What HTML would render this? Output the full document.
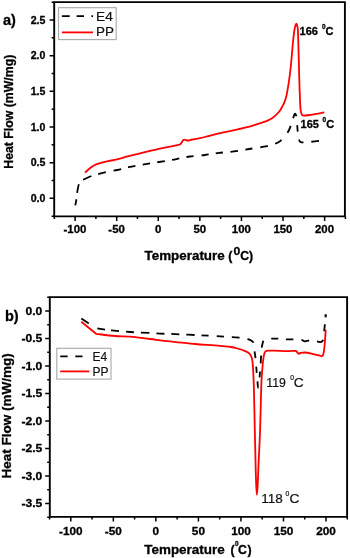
<!DOCTYPE html>
<html><head><meta charset="utf-8"><title>DSC</title>
<style>
html,body{margin:0;padding:0;background:#fff;}
svg{display:block;}
.tb{font-family:'Liberation Sans', Arial, sans-serif;font-weight:bold;fill:#000;stroke:#000;stroke-width:0.3px;}
.tr{font-family:'Liberation Sans', Arial, sans-serif;font-weight:normal;fill:#111;stroke:#111;stroke-width:0.2px;}
</style></head>
<body>
<svg width="350" height="558" viewBox="0 0 350 558">
<path d="M54.2,2.1 H344.9 V216.4 H54.2 Z" fill="none" stroke="#000" stroke-width="1.9"/>
<path d="M54.31,216.4 v2.6 M75.10,216.4 v4.6 M95.89,216.4 v2.6 M116.69,216.4 v4.6 M137.48,216.4 v2.6 M158.27,216.4 v4.6 M179.06,216.4 v2.6 M199.85,216.4 v4.6 M220.65,216.4 v2.6 M241.44,216.4 v4.6 M262.23,216.4 v2.6 M283.02,216.4 v4.6 M303.82,216.4 v2.6 M324.61,216.4 v4.6 M345.40,216.4 v2.6 M54.2,216.13 h-2.6 M54.2,198.30 h-4.6 M54.2,180.47 h-2.6 M54.2,162.64 h-4.6 M54.2,144.81 h-2.6 M54.2,126.98 h-4.6 M54.2,109.15 h-2.6 M54.2,91.32 h-4.6 M54.2,73.49 h-2.6 M54.2,55.66 h-4.6 M54.2,37.83 h-2.6 M54.2,20.00 h-4.6 M54.2,2.17 h-2.6" stroke="#000" stroke-width="1.5" fill="none"/>
<text transform="translate(45.40,201.90)" class="tb" font-size="10.6" text-anchor="end">0.0</text>
<text transform="translate(45.40,166.24)" class="tb" font-size="10.6" text-anchor="end">0.5</text>
<text transform="translate(45.40,130.58)" class="tb" font-size="10.6" text-anchor="end">1.0</text>
<text transform="translate(45.40,94.92)" class="tb" font-size="10.6" text-anchor="end">1.5</text>
<text transform="translate(45.40,59.26)" class="tb" font-size="10.6" text-anchor="end">2.0</text>
<text transform="translate(45.40,23.60)" class="tb" font-size="10.6" text-anchor="end">2.5</text>
<text transform="translate(75.00,233.00) scale(1.060,1)" class="tb" font-size="10.8" text-anchor="middle">-100</text>
<text transform="translate(116.59,233.00) scale(1.060,1)" class="tb" font-size="10.8" text-anchor="middle">-50</text>
<text transform="translate(158.17,233.00) scale(1.060,1)" class="tb" font-size="10.8" text-anchor="middle">0</text>
<text transform="translate(199.75,233.00) scale(1.060,1)" class="tb" font-size="10.8" text-anchor="middle">50</text>
<text transform="translate(241.34,233.00) scale(1.060,1)" class="tb" font-size="10.8" text-anchor="middle">100</text>
<text transform="translate(282.92,233.00) scale(1.060,1)" class="tb" font-size="10.8" text-anchor="middle">150</text>
<text transform="translate(324.51,233.00) scale(1.060,1)" class="tb" font-size="10.8" text-anchor="middle">200</text>
<path id="blka" d="M75.30,205.40 C75.48,204.38 76.10,201.38 76.40,199.30 C76.70,197.22 76.68,195.40 77.10,192.90 C77.52,190.40 78.17,186.25 78.90,184.30 C79.63,182.35 80.60,182.03 81.50,181.20 C82.40,180.37 82.65,180.17 84.30,179.30 C85.95,178.43 88.48,177.03 91.40,176.00 C94.32,174.97 98.70,173.90 101.80,173.10 C104.90,172.30 107.38,171.72 110.00,171.20 C112.62,170.68 114.40,170.67 117.50,170.00 C120.60,169.33 123.18,168.30 128.60,167.20 C134.02,166.10 143.10,164.55 150.00,163.40 C156.90,162.25 165.00,161.15 170.00,160.30 C175.00,159.45 176.67,158.93 180.00,158.30 C183.33,157.67 185.83,157.05 190.00,156.50 C194.17,155.95 200.17,155.60 205.00,155.00 C209.83,154.40 214.17,153.50 219.00,152.90 C223.83,152.30 229.00,152.05 234.00,151.40 C239.00,150.75 244.00,149.78 249.00,149.00 C254.00,148.22 259.78,147.53 264.00,146.70 C268.22,145.87 271.88,144.73 274.30,144.00 C276.72,143.27 277.22,143.05 278.50,142.30 C279.78,141.55 280.92,140.55 282.00,139.50 C283.08,138.45 283.78,137.67 285.00,136.00 C286.22,134.33 288.02,132.25 289.30,129.50 C290.58,126.75 291.78,122.12 292.70,119.50 C293.62,116.88 294.15,114.13 294.80,113.80 C295.45,113.47 296.17,115.15 296.60,117.50 C297.03,119.85 297.12,124.82 297.40,127.90 C297.68,130.98 297.93,133.78 298.30,136.00 C298.67,138.22 299.07,140.15 299.60,141.20 C300.13,142.25 300.77,142.10 301.50,142.30 C302.23,142.50 302.42,142.48 304.00,142.40 C305.58,142.32 308.40,142.05 311.00,141.80 C313.60,141.55 317.43,141.12 319.60,140.90 C321.77,140.68 323.27,140.57 324.00,140.50" fill="none" stroke="#000" stroke-width="1.8" stroke-dasharray="6.25 6.37 8.87 6.37 8.87 7.00 7.75 8.12 7.87 6.97 7.56 7.29 7.56 7.29 7.56 7.29 7.56 7.29 7.25 7.75 7.25 7.25 7.25 7.50 7.62 7.50 7.12 7.75 7.75 7.50 7.75 9.37 7.62 7.87 8.00 8.62 6.37 8.25 6.25 7.75 7.62 25.37"/>
<path d="M85.00,172.60 C85.83,171.87 88.45,169.43 90.00,168.20 C91.55,166.97 92.47,166.08 94.30,165.20 C96.13,164.32 98.62,163.58 101.00,162.90 C103.38,162.22 105.93,161.68 108.60,161.10 C111.27,160.52 113.67,160.22 117.00,159.40 C120.33,158.58 123.10,157.63 128.60,156.20 C134.10,154.77 144.77,152.05 150.00,150.80 C155.23,149.55 156.67,149.40 160.00,148.70 C163.33,148.00 167.33,147.15 170.00,146.60 C172.67,146.05 174.28,145.80 176.00,145.40 C177.72,145.00 179.15,145.02 180.30,144.20 C181.45,143.38 182.23,141.25 182.90,140.50 C183.57,139.75 183.45,139.70 184.30,139.70 C185.15,139.70 186.67,140.53 188.00,140.50 C189.33,140.47 190.30,139.88 192.30,139.50 C194.30,139.12 197.17,138.82 200.00,138.20 C202.83,137.58 205.37,136.77 209.30,135.80 C213.23,134.83 218.83,133.48 223.60,132.40 C228.37,131.32 234.33,130.08 237.90,129.30 C241.47,128.52 242.27,128.40 245.00,127.70 C247.73,127.00 251.47,125.95 254.30,125.10 C257.13,124.25 259.62,123.43 262.00,122.60 C264.38,121.77 266.93,120.82 268.60,120.10 C270.27,119.38 270.93,119.00 272.00,118.30 C273.07,117.60 273.75,117.08 275.00,115.90 C276.25,114.72 278.33,112.68 279.50,111.20 C280.67,109.72 281.25,108.35 282.00,107.00 C282.75,105.65 283.33,104.68 284.00,103.10 C284.67,101.52 285.48,99.28 286.00,97.50 C286.52,95.72 286.62,95.05 287.10,92.40 C287.58,89.75 288.35,85.33 288.90,81.60 C289.45,77.87 289.95,73.93 290.40,70.00 C290.85,66.07 291.17,62.67 291.60,58.00 C292.03,53.33 292.50,46.83 293.00,42.00 C293.50,37.17 294.05,32.07 294.60,29.00 C295.15,25.93 295.77,23.60 296.30,23.60 C296.83,23.60 297.47,25.93 297.80,29.00 C298.13,32.07 298.13,36.83 298.30,42.00 C298.47,47.17 298.63,53.67 298.80,60.00 C298.97,66.33 299.10,73.33 299.30,80.00 C299.50,86.67 299.78,95.00 300.00,100.00 C300.22,105.00 300.33,107.70 300.60,110.00 C300.87,112.30 301.15,112.87 301.60,113.80 C302.05,114.73 302.02,115.40 303.30,115.60 C304.58,115.80 305.80,115.53 309.30,115.00 C312.80,114.47 321.80,112.83 324.30,112.40" fill="none" stroke="#f00" stroke-width="1.8" stroke-linejoin="round"/>
<rect x="58.5" y="7.7" width="57.7" height="31.9" fill="#fff" stroke="#a8a8a8" stroke-width="1.1"/>
<path d="M61.9,16.2 H93.1" stroke="#000" stroke-width="1.8" stroke-dasharray="7.8 6.9 7.4 7.4 2 10"/>
<path d="M62,32.4 H93" stroke="#f00" stroke-width="1.8"/>
<text transform="translate(96.10,20.90) scale(1.070,1)" class="tr" font-size="12.8">E4</text>
<text transform="translate(96.10,36.10) scale(1.050,1)" class="tr" font-size="12.8">PP</text>
<text x="299.6" y="35.1" class="tb" font-size="11">166</text><text x="322" y="28.6" class="tb" font-size="6.5">0</text><text x="325.6" y="35.1" class="tb" font-size="11">C</text>
<text x="300.6" y="128.3" class="tb" font-size="11">165</text><text x="322.5" y="122.1" class="tb" font-size="6.5">0</text><text x="326.2" y="128.3" class="tb" font-size="11">C</text>
<text x="3" y="24.7" class="tb" font-size="14.5">a)</text>
<text transform="translate(144.50,260.40)" class="tb" font-size="12.3" textLength="80.2" lengthAdjust="spacingAndGlyphs">Temperature</text>
<text transform="translate(228.30,260.40)" class="tb" font-size="12.3">(</text>
<text transform="translate(233.60,254.70) scale(1.050,1)" class="tb" font-size="11.6">0</text>
<text transform="translate(240.30,260.40)" class="tb" font-size="12.3">C</text>
<text transform="translate(248.90,260.40)" class="tb" font-size="12.3">)</text>
<text transform="translate(13.4,168.7) rotate(-90)" x="0" y="0" class="tb" font-size="12.4" textLength="114" lengthAdjust="spacingAndGlyphs">Heat Flow (mW/mg)</text>
<path d="M49.8,297.1 H347.1 V516.9 H49.8 Z" fill="none" stroke="#000" stroke-width="1.9"/>
<path d="M49.53,516.9 v2.6 M70.80,516.9 v4.6 M92.07,516.9 v2.6 M113.34,516.9 v4.6 M134.60,516.9 v2.6 M155.87,516.9 v4.6 M177.14,516.9 v2.6 M198.41,516.9 v4.6 M219.67,516.9 v2.6 M240.94,516.9 v4.6 M262.21,516.9 v2.6 M283.48,516.9 v4.6 M304.74,516.9 v2.6 M326.01,516.9 v4.6 M347.28,516.9 v2.6 M49.8,517.14 h-2.6 M49.8,503.39 h-4.6 M49.8,489.65 h-2.6 M49.8,475.91 h-4.6 M49.8,462.17 h-2.6 M49.8,448.43 h-4.6 M49.8,434.68 h-2.6 M49.8,420.94 h-4.6 M49.8,407.20 h-2.6 M49.8,393.45 h-4.6 M49.8,379.71 h-2.6 M49.8,365.97 h-4.6 M49.8,352.23 h-2.6 M49.8,338.49 h-4.6 M49.8,324.74 h-2.6 M49.8,311.00 h-4.6 M49.8,297.26 h-2.6" stroke="#000" stroke-width="1.5" fill="none"/>
<text transform="translate(42.30,314.70) scale(1.120,1)" class="tb" font-size="10.8" text-anchor="end">0.0</text>
<text transform="translate(42.30,342.19) scale(1.120,1)" class="tb" font-size="10.8" text-anchor="end">-0.5</text>
<text transform="translate(42.30,369.67) scale(1.120,1)" class="tb" font-size="10.8" text-anchor="end">-1.0</text>
<text transform="translate(42.30,397.15) scale(1.120,1)" class="tb" font-size="10.8" text-anchor="end">-1.5</text>
<text transform="translate(42.30,424.64) scale(1.120,1)" class="tb" font-size="10.8" text-anchor="end">-2.0</text>
<text transform="translate(42.30,452.12) scale(1.120,1)" class="tb" font-size="10.8" text-anchor="end">-2.5</text>
<text transform="translate(42.30,479.61) scale(1.120,1)" class="tb" font-size="10.8" text-anchor="end">-3.0</text>
<text transform="translate(42.30,507.09) scale(1.120,1)" class="tb" font-size="10.8" text-anchor="end">-3.5</text>
<text transform="translate(70.80,535.00) scale(1.070,1)" class="tb" font-size="11" text-anchor="middle">-100</text>
<text transform="translate(113.34,535.00) scale(1.070,1)" class="tb" font-size="11" text-anchor="middle">-50</text>
<text transform="translate(155.87,535.00) scale(1.070,1)" class="tb" font-size="11" text-anchor="middle">0</text>
<text transform="translate(198.41,535.00) scale(1.070,1)" class="tb" font-size="11" text-anchor="middle">50</text>
<text transform="translate(240.94,535.00) scale(1.070,1)" class="tb" font-size="11" text-anchor="middle">100</text>
<text transform="translate(283.48,535.00) scale(1.070,1)" class="tb" font-size="11" text-anchor="middle">150</text>
<text transform="translate(326.01,535.00) scale(1.070,1)" class="tb" font-size="11" text-anchor="middle">200</text>
<path id="blkb" d="M81.30,318.60 C83.58,320.10 92.72,326.10 95.00,327.60 C95.42,327.73 96.07,328.10 97.50,328.40 C98.93,328.70 101.25,329.07 103.60,329.40 C105.95,329.73 107.20,329.97 111.60,330.40 C116.00,330.83 123.60,331.57 130.00,332.00 C136.40,332.43 145.00,332.73 150.00,333.00 C155.00,333.27 155.83,333.42 160.00,333.60 C164.17,333.78 169.17,333.87 175.00,334.10 C180.83,334.33 188.33,334.68 195.00,335.00 C201.67,335.32 207.67,335.57 215.00,336.00 C222.33,336.43 234.17,337.22 239.00,337.60 C243.83,337.98 242.50,338.03 244.00,338.30 C245.50,338.57 246.75,338.78 248.00,339.20 C249.25,339.62 250.58,340.17 251.50,340.80 C252.42,341.43 253.00,341.30 253.50,343.00 C254.00,344.70 254.17,348.50 254.50,351.00 C254.83,353.50 255.17,354.83 255.50,358.00 C255.83,361.17 256.17,366.00 256.50,370.00 C256.83,374.00 257.22,379.08 257.50,382.00 C257.78,384.92 257.87,388.17 258.20,387.50 C258.53,386.83 259.08,382.08 259.50,378.00 C259.92,373.92 260.40,367.33 260.70,363.00 C261.00,358.67 261.05,355.00 261.30,352.00 C261.55,349.00 261.83,346.90 262.20,345.00 C262.57,343.10 262.87,341.60 263.50,340.60 C264.13,339.60 264.75,339.33 266.00,339.00 C267.25,338.67 269.00,338.67 271.00,338.60 C273.00,338.53 275.50,338.48 278.00,338.60 C280.50,338.72 283.50,339.17 286.00,339.30 C288.50,339.43 290.48,339.30 293.00,339.40 C295.52,339.50 299.17,339.58 301.10,339.90 C303.03,340.22 303.45,341.17 304.60,341.30 C305.75,341.43 306.00,340.70 308.00,340.70 C310.00,340.70 314.50,341.07 316.60,341.30 C318.70,341.53 319.55,342.25 320.60,342.10 C321.65,341.95 322.37,341.58 322.90,340.40 C323.43,339.22 323.53,337.07 323.80,335.00 C324.07,332.93 324.27,330.33 324.50,328.00 C324.73,325.67 325.00,323.20 325.20,321.00 C325.40,318.80 325.62,315.83 325.70,314.80" fill="none" stroke="#000" stroke-width="1.8" stroke-dasharray="8.87 10.00 7.75 6.12 8.00 7.00 8.00 6.87 8.50 7.12 8.12 6.87 8.12 6.75 8.37 6.87 7.25 8.12 7.12 7.75 7.75 8.12 7.37 8.50 7.00 8.37 6.37 8.37 6.62 10.12 5.87 8.00 7.87 8.00 7.00 8.50 7.00 7.62 7.50 8.00 8.37 7.50 7.50 8.62 6.87 8.37 1.62 20.00"/>
<path d="M325.55,317.4 L325.75,314.4" stroke="#000" stroke-width="2" fill="none"/>
<path d="M81.30,321.70 C83.77,323.72 93.63,331.78 96.10,333.80 C99.25,334.17 109.35,335.53 115.00,336.00 C120.65,336.47 124.17,336.10 130.00,336.60 C135.83,337.10 143.33,338.20 150.00,339.00 C156.67,339.80 162.50,340.57 170.00,341.40 C177.50,342.23 187.50,343.33 195.00,344.00 C202.50,344.67 209.00,344.90 215.00,345.40 C221.00,345.90 227.00,346.40 231.00,347.00 C235.00,347.60 236.83,348.40 239.00,349.00 C241.17,349.60 242.50,350.02 244.00,350.60 C245.50,351.18 246.92,351.77 248.00,352.50 C249.08,353.23 249.83,353.92 250.50,355.00 C251.17,356.08 251.62,357.33 252.00,359.00 C252.38,360.67 252.50,360.67 252.80,365.00 C253.10,369.33 253.47,374.17 253.80,385.00 C254.13,395.83 254.50,416.67 254.80,430.00 C255.10,443.33 255.37,455.83 255.60,465.00 C255.83,474.17 255.98,480.03 256.20,485.00 C256.42,489.97 256.65,494.80 256.90,494.80 C257.15,494.80 257.43,489.97 257.70,485.00 C257.97,480.03 258.10,474.17 258.50,465.00 C258.90,455.83 259.63,443.33 260.10,430.00 C260.57,416.67 260.92,395.33 261.30,385.00 C261.68,374.67 262.08,372.17 262.40,368.00 C262.72,363.83 262.90,362.33 263.20,360.00 C263.50,357.67 263.82,355.43 264.20,354.00 C264.58,352.57 264.87,351.97 265.50,351.40 C266.13,350.83 266.58,350.73 268.00,350.60 C269.42,350.47 270.67,350.52 274.00,350.60 C277.33,350.68 284.45,351.05 288.00,351.10 C291.55,351.15 293.80,350.75 295.30,350.90 C296.80,351.05 296.43,351.52 297.00,352.00 C297.57,352.48 298.12,353.63 298.70,353.80 C299.28,353.97 299.45,353.22 300.50,353.00 C301.55,352.78 303.18,352.40 305.00,352.50 C306.82,352.60 308.80,353.03 311.40,353.60 C314.00,354.17 318.68,355.62 320.60,355.90 C322.52,356.18 322.33,356.17 322.90,355.30 C323.47,354.43 323.63,353.37 324.00,350.70 C324.37,348.03 324.82,342.82 325.10,339.30 C325.38,335.78 325.60,331.22 325.70,329.60" fill="none" stroke="#f00" stroke-width="1.8" stroke-linejoin="round"/>
<rect x="56.8" y="348.3" width="54.2" height="30.8" fill="#fff" stroke="#a8a8a8" stroke-width="1.1"/>
<path d="M60.2,356.3 H89.3" stroke="#000" stroke-width="1.8" stroke-dasharray="7.4 7.7 7.2 20"/>
<path d="M60.2,371.4 H89.3" stroke="#f00" stroke-width="1.8"/>
<text x="92.6" y="361.1" class="tr" font-size="12">E4</text>
<text x="92.6" y="376.2" class="tr" font-size="12">PP</text>
<text x="266.3" y="387.4" class="tr" font-size="12.3">119</text><text x="290.2" y="380.3" class="tr" font-size="6.8">0</text><text transform="translate(293.8,387.4) scale(1.12,1)" class="tr" font-size="12.3">C</text>
<text x="261.2" y="502.9" class="tr" font-size="12.3" textLength="21.5" lengthAdjust="spacingAndGlyphs">118</text><text x="285.5" y="495.6" class="tr" font-size="6.8">0</text><text transform="translate(289.4,502.9) scale(1.12,1)" class="tr" font-size="12.3">C</text>
<text x="4.9" y="320.6" class="tb" font-size="14.5">b)</text>
<text transform="translate(144.30,553.60)" class="tb" font-size="12.3" textLength="80.3" lengthAdjust="spacingAndGlyphs">Temperature</text>
<text transform="translate(230.50,553.60)" class="tb" font-size="12.3">(</text>
<text transform="translate(234.90,545.90)" class="tb" font-size="6.4">0</text>
<text transform="translate(238.00,553.60)" class="tb" font-size="12.3">C</text>
<text transform="translate(247.50,553.60)" class="tb" font-size="12.3">)</text>
<text transform="translate(11.0,478.4) rotate(-90)" x="0" y="0" class="tb" font-size="13.2" textLength="125.2" lengthAdjust="spacingAndGlyphs">Heat Flow (mW/mg)</text>
</svg>
</body></html>
